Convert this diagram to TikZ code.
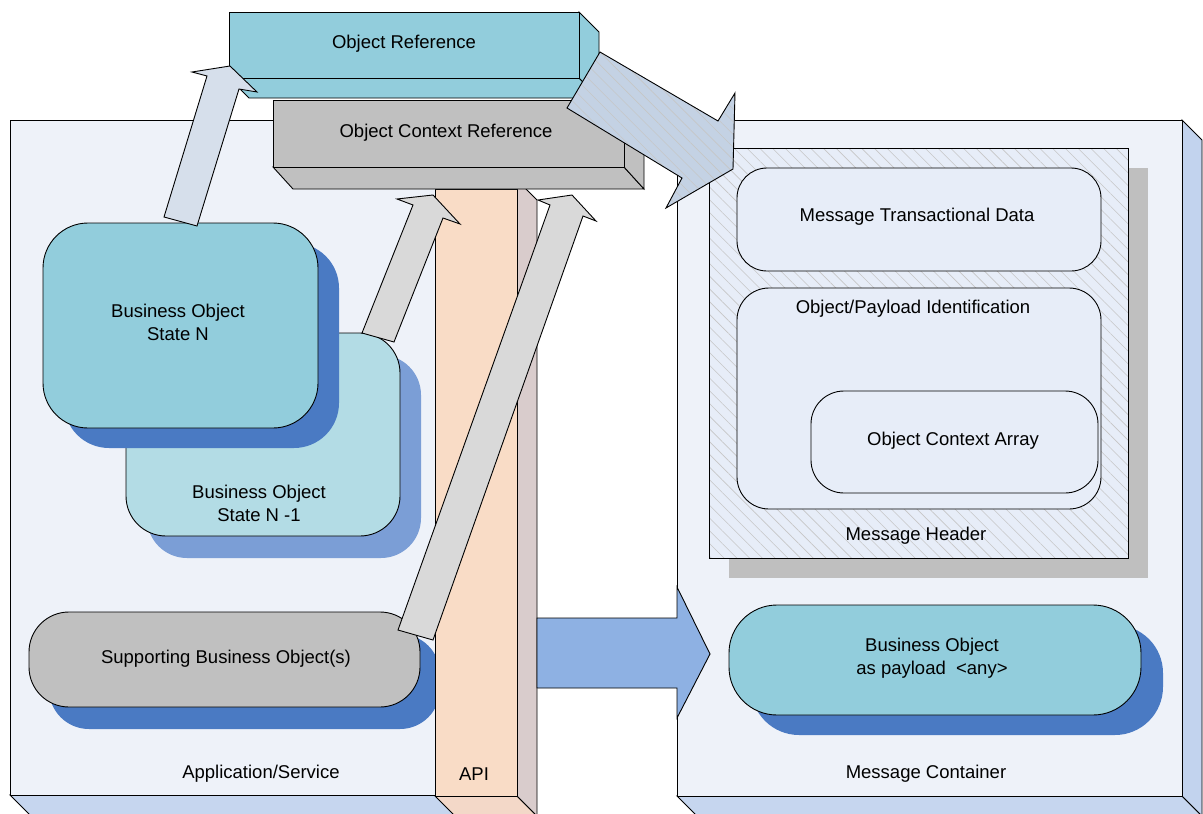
\documentclass[tikz,border=0pt]{standalone}
\usepackage{fontspec}
\setmainfont{Liberation Sans}
\usetikzlibrary{patterns.meta}
\definecolor{leftfront}{HTML}{EEF2F9}
\definecolor{bface}{HTML}{C6D6EF}
\definecolor{rface}{HTML}{C2D3EE}
\definecolor{apifront}{HTML}{F9DCC6}
\definecolor{apiside}{HTML}{D9CCCC}
\definecolor{apibottom}{HTML}{F3D8C8}
\definecolor{hdrfill}{HTML}{E7EDF8}
\definecolor{tealc}{HTML}{92CDDC}
\definecolor{grayc}{HTML}{C0C0C0}
\definecolor{shadowblue}{HTML}{4A7AC3}
\definecolor{prevfill}{HTML}{B3DCE5}
\definecolor{prevshadow}{HTML}{7B9ED6}
\definecolor{arrowlight}{HTML}{D6DFEB}
\definecolor{arrowgray}{HTML}{D9D9D9}
\definecolor{bluearrow}{HTML}{8EB1E3}
\definecolor{stripec}{HTML}{C4D2E4}
\definecolor{hdrshadow}{HTML}{BFBFBF}
\begin{document}
\begin{tikzpicture}[x=1pt,y=-1pt,
  outl/.style={draw=black,line width=0.9pt,line join=miter},
  box/.style={outl,inner sep=0pt,outer sep=0pt,anchor=north west},
  shad/.style={inner sep=0pt,outer sep=0pt,anchor=north west},
  lbl/.style={font=\fontsize{18.5}{23}\selectfont,align=center,inner sep=0pt},
  hatch/.style={pattern={Lines[angle=-45,distance=9pt,line width=0.6pt]},pattern color=gray!45}
]
\useasboundingbox (0,0) rectangle (1203,814);
\clip (0,0) rectangle (1203,814);

% ---------- Application/Service container ----------
\path[outl,fill=bface] (10,795) -- (435,795) -- (455,815) -- (30,815) -- cycle;
\node[box,fill=leftfront,minimum width=425pt,minimum height=675pt] (app) at (10,120) {};

% ---------- Message Container ----------
\path[outl,fill=bface] (677,796) -- (1182,796) -- (1202,816) -- (697,816) -- cycle;
\path[outl,fill=rface] (1182,120) -- (1202,140) -- (1202,816) -- (1182,796) -- cycle;
\node[box,fill=leftfront,minimum width=505pt,minimum height=676pt] (msg) at (677,120) {};

% Message Header
\node[shad,fill=hdrshadow,minimum width=419pt,minimum height=410pt] (hdrsh) at (729,168) {};
\node[box,fill=hdrfill,minimum width=419pt,minimum height=410pt] (hdr) at (709,148) {};
\path[hatch] (hdr.north west) rectangle (hdr.south east);
\draw[outl] (hdr.north west) rectangle (hdr.south east);
\node[box,fill=hdrfill,rounded corners=30pt,minimum width=364pt,minimum height=103pt] (mtd) at (737,168) {};
\node[box,fill=hdrfill,rounded corners=32pt,minimum width=364pt,minimum height=221pt] (opi) at (737,288) {};
\node[box,fill=hdrfill,rounded corners=33pt,minimum width=287pt,minimum height=102pt] (oca) at (811,391) {};

% Business Object payload
\node[shad,fill=shadowblue,rounded corners=48pt,minimum width=412pt,minimum height=110pt] (paysh) at (751,625) {};
\node[box,fill=tealc,rounded corners=48pt,minimum width=412pt,minimum height=110pt] (pay) at (729,605) {};

% ---------- objects in Application/Service ----------
\node[shad,fill=shadowblue,rounded corners=40pt,minimum width=391pt,minimum height=95pt] (supsh) at (49,634) {};
\node[box,fill=grayc,rounded corners=40pt,minimum width=391pt,minimum height=95pt] (sup) at (29,612) {};

\node[shad,fill=prevshadow,rounded corners=40pt,minimum width=274pt,minimum height=203pt] (prevsh) at (147,355) {};
\node[box,fill=prevfill,rounded corners=40pt,minimum width=274pt,minimum height=203pt] (prev) at (126,333) {};

\node[shad,fill=shadowblue,rounded corners=45pt,minimum width=275pt,minimum height=205pt] (cursh) at (64,243) {};
\node[box,fill=tealc,rounded corners=45pt,minimum width=275pt,minimum height=205pt] (cur) at (43,223) {};

% ---------- API column ----------
\path[outl,fill=apibottom] (435,796) -- (517,796) -- (537,816) -- (455,816) -- cycle;
\path[outl,fill=apiside] (517,180) -- (537,200) -- (537,816) -- (517,796) -- cycle;
\node[box,fill=apifront,minimum width=82pt,minimum height=607pt] (api) at (435,189) {};

% ---------- reference boxes ----------
\path[outl,fill=grayc] (273,167) -- (624,167) -- (644,189) -- (293,189) -- cycle;
\path[outl,fill=grayc] (624,100) -- (644,122) -- (644,189) -- (624,167) -- cycle;
\node[box,fill=grayc,minimum width=351pt,minimum height=67pt] (ocr) at (273,100) {};

\path[outl,fill=tealc] (229,78) -- (579,78) -- (599,98) -- (249,98) -- cycle;
\path[outl,fill=tealc] (579,12) -- (599,32) -- (599,98) -- (579,78) -- cycle;
\node[box,fill=tealc,minimum width=350pt,minimum height=66pt] (oref) at (229,12) {};

% ---------- block arrows ----------
\path[fill=stripec] (600,52) -- (718,121) -- (735,93) -- (733,169) -- (666,208) -- (682,178) -- (567,108) -- cycle;
\path[hatch] (600,52) -- (718,121) -- (735,93) -- (733,169) -- (666,208) -- (682,178) -- (567,108) -- cycle;
\draw[outl] (600,52) -- (718,121) -- (735,93) -- (733,169) -- (666,208) -- (682,178) -- (567,108) -- cycle;

\path[outl,fill=bluearrow] (537,618) -- (677,618) -- (677,587) -- (710,654) -- (677,718) -- (677,688) -- (537,688) -- cycle;

\path[outl,fill=arrowlight] (164,217) -- (197,226) -- (239,89) -- (257,92) -- (230,66) -- (192,72) -- (207,76) -- cycle;
\path[outl,fill=arrowgray] (362,333) -- (394,342) -- (443,218) -- (460,224) -- (433,195) -- (397,199) -- (413,205) -- cycle;
\path[outl,fill=arrowgray] (398,630) -- (433,640) -- (583,216) -- (596,221) -- (572,195) -- (538,200) -- (550,205) -- cycle;

% ---------- labels ----------
\node[lbl] (toref) at (404,44) {Object Reference};
\node[lbl] (tocr) at (446,133) {Object Context Reference};
\node[lbl] (tcur) at (178,322) {Business Object\\State N};
\node[lbl] (tprev) at (259,503) {Business Object\\State N -1};
\node[lbl] (tsup) at (226,659) {Supporting Business Object(s)};
\node[lbl] (tapp) at (261,774) {Application/Service};
\node[lbl] (tapi) at (474,774) {API};
\node[lbl] (tmsg) at (926,774) {Message Container};
\node[lbl] (tpay) at (932,658) {Business Object\\as payload \ <any>};
\node[lbl] (thdr) at (916,536) {Message Header};
\node[lbl] (toca) at (953,441) {Object Context Array};
\node[lbl] (topi) at (913,309) {Object/Payload Identification};
\node[lbl] (tmtd) at (917,217) {Message Transactional Data};
\end{tikzpicture}
\end{document}
